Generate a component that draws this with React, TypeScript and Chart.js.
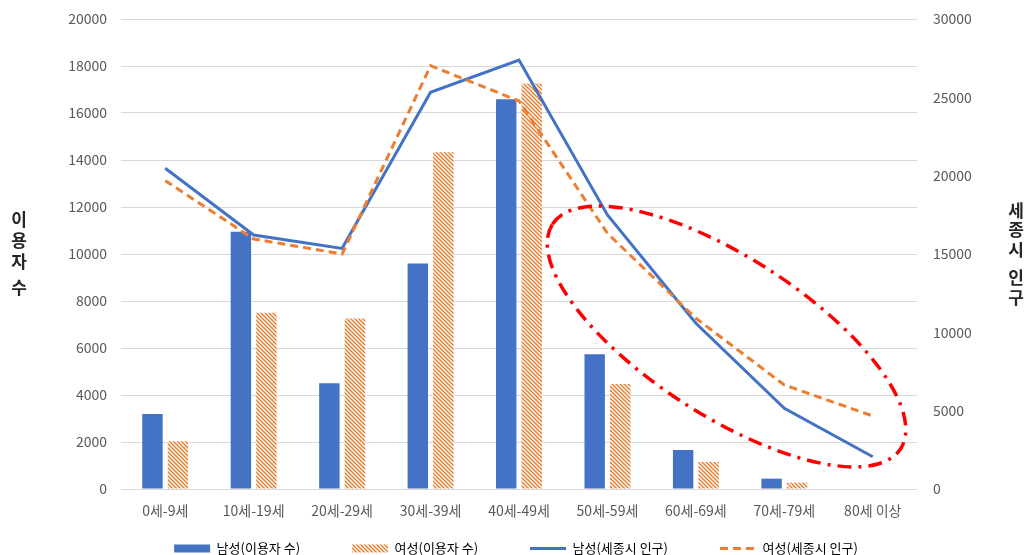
import { useEffect, useRef } from 'react';
import { Chart, registerables } from 'chart.js';

Chart.register(...registerables);

const categories = ['0세-9세', '10세-19세', '20세-29세', '30세-39세', '40세-49세', '50세-59세', '60세-69세', '70세-79세', '80세 이상'];
const maleUsers = [3190, 10950, 4500, 9600, 16580, 5730, 1660, 440, null];
const femaleUsers = [2030, 7500, 7260, 14330, 17260, 4470, 1150, 270, null];
const malePop = [20470, 16210, 15360, 25320, 27380, 17490, 10580, 5150, 2060];
const femalePop = [19680, 15960, 15000, 27020, 24770, 16320, 10900, 6640, 4660];

const seriesLabels = ['남성(이용자 수)', '여성(이용자 수)', '남성(세종시 인구)', '여성(세종시 인구)'];
const leftTitle = ['이', '용', '자', ' ', '수'];
const rightTitle = ['세', '종', '시', ' ', '인', '구'];
const leftMax = 20000;
const leftStep = 2000;
const rightMax = 30000;
const rightStep = 5000;

// highlighted region (long-axis end points in data coordinates: category index, left-axis value)
const highlightFrom = { x: 4.378, y: 11264 };
const highlightTo = { x: 8.315, y: 1715 };

const BLUE = '#4472C4';
const ORANGE = '#ED7D31';
const FONT = "'Noto Sans CJK KR', 'Noto Sans', sans-serif";

function makeHatch(): CanvasPattern | string {
  const c = document.createElement('canvas');
  c.width = 4;
  c.height = 4;
  const g = c.getContext('2d');
  if (!g) return ORANGE;
  g.fillStyle = '#ffffff';
  g.fillRect(0, 0, 4, 4);
  g.strokeStyle = ORANGE;
  g.lineWidth = 1.5;
  g.beginPath();
  g.moveTo(-1, -1); g.lineTo(5, 5);
  g.moveTo(-1, 3); g.lineTo(1, 5);
  g.moveTo(3, -1); g.lineTo(5, 1);
  g.stroke();
  return g.createPattern(c, 'repeat') || ORANGE;
}

const titlesPlugin = {
  id: 'stackedTitles',
  afterDraw(chart: any) {
    const { ctx, chartArea } = chart;
    const draw = (chars: string[], x: number, step: number, spaceStep: number) => {
      const pos: number[] = [];
      let y = 0;
      chars.forEach((ch) => {
        if (ch === ' ') { y += spaceStep; return; }
        if (pos.length > 0) y += step;
        pos.push(y);
      });
      const mid = (chartArea.top + chartArea.bottom) / 2;
      const start = mid - y / 2;
      ctx.save();
      ctx.font = `bold 17px ${FONT}`;
      ctx.fillStyle = '#262626';
      ctx.textAlign = 'center';
      ctx.textBaseline = 'middle';
      const glyphs = chars.filter((c) => c !== ' ');
      glyphs.forEach((ch, i) => ctx.fillText(ch, x, start + pos[i]));
      ctx.restore();
    };
    draw(leftTitle, 19, 21, 5);
    draw(rightTitle, chart.width - 16, 19.5, 9);
  },
};

const legendPlacePlugin = {
  id: 'legendPlace',
  beforeDraw(chart: any) {
    if (chart.legend) {
      chart.legend.top = chart.height - 65;
      chart.legend.bottom = chart.height;
      chart.legend.height = 65;
    }
  },
};

const highlightPlugin = {
  id: 'highlight',
  afterDatasetsDraw(chart: any) {
    const { ctx, scales } = chart;
    const x1 = scales.x.getPixelForValue(highlightFrom.x);
    const y1 = scales.y.getPixelForValue(highlightFrom.y);
    const x2 = scales.x.getPixelForValue(highlightTo.x);
    const y2 = scales.y.getPixelForValue(highlightTo.y);
    const cx = (x1 + x2) / 2;
    const cy = (y1 + y2) / 2;
    const a = Math.hypot(x2 - x1, y2 - y1) / 2;
    const b = a * 0.382;
    const ang = Math.atan2(y2 - y1, x2 - x1);
    ctx.save();
    ctx.strokeStyle = '#FF0000';
    ctx.lineWidth = 3.5;
    ctx.setLineDash([14, 7, 3, 7]);
    ctx.beginPath();
    ctx.ellipse(cx, cy, a, b, ang, Math.PI, Math.PI * 3);
    ctx.stroke();
    ctx.restore();
  },
};

export default function App() {
  const ref = useRef<HTMLCanvasElement | null>(null);

  useEffect(() => {
    document.body.style.margin = '0';
    if (!ref.current) return;
    const hatch = makeHatch();
    const plain = (v: any) => String(v);
    const chart = new Chart(ref.current, {
      type: 'bar',
      data: {
        labels: categories,
        datasets: [
          { type: 'bar', label: seriesLabels[0], data: maleUsers, backgroundColor: BLUE, yAxisID: 'y', order: 3, categoryPercentage: 0.577, barPercentage: 0.8 } as any,
          { type: 'bar', label: seriesLabels[1], data: femaleUsers, backgroundColor: hatch, yAxisID: 'y', order: 4, categoryPercentage: 0.577, barPercentage: 0.8 } as any,
          { type: 'line', label: seriesLabels[2], data: malePop, borderColor: BLUE, backgroundColor: BLUE, borderWidth: 3, pointRadius: 0, tension: 0, yAxisID: 'y1', order: 2 } as any,
          { type: 'line', label: seriesLabels[3], data: femalePop, borderColor: ORANGE, backgroundColor: ORANGE, borderWidth: 3, borderDash: [8, 5], pointRadius: 0, tension: 0, yAxisID: 'y1', order: 1 } as any,
        ],
      },
      options: {
        animation: false,
        responsive: true,
        maintainAspectRatio: false,
        layout: { padding: { left: 0, right: 0, top: 19, bottom: 0 } },
        plugins: {
          tooltip: { enabled: false },
          legend: {
            position: 'bottom',
            maxHeight: 34,
            labels: {
              usePointStyle: true,
              pointStyleWidth: 36,
              boxHeight: 8,
              padding: 52,
              color: '#595959',
              font: { family: FONT, size: 13 },
              generateLabels: () => [
                { text: seriesLabels[0], fillStyle: BLUE, strokeStyle: BLUE, lineWidth: 0, pointStyle: 'rect', datasetIndex: 0 },
                { text: seriesLabels[1], fillStyle: hatch, strokeStyle: ORANGE, lineWidth: 0, pointStyle: 'rect', datasetIndex: 1 },
                { text: seriesLabels[2], fillStyle: BLUE, strokeStyle: BLUE, lineWidth: 3, pointStyle: 'line', datasetIndex: 2 },
                { text: seriesLabels[3], fillStyle: ORANGE, strokeStyle: ORANGE, lineWidth: 3, lineDash: [8, 5], pointStyle: 'line', datasetIndex: 3 },
              ] as any,
            },
          },
        },
        scales: {
          x: {
            grid: { display: false },
            border: { display: false },
            ticks: { color: '#595959', font: { family: FONT, size: 14 }, padding: 5, maxRotation: 0, autoSkip: false },
            afterFit: (s: any) => { s.height = 32; },
          },
          y: {
            position: 'left',
            min: 0,
            max: leftMax,
            grid: { color: '#D9D9D9', lineWidth: 1, drawTicks: false },
            border: { display: false },
            ticks: { stepSize: leftStep, color: '#595959', font: { family: FONT, size: 14 }, padding: 14, callback: plain },
            afterFit: (s: any) => { s.width = 121; s.paddingTop = 0; s.paddingBottom = 0; },
          },
          y1: {
            position: 'right',
            min: 0,
            max: rightMax,
            grid: { display: false, drawTicks: false },
            border: { display: false },
            ticks: { stepSize: rightStep, color: '#595959', font: { family: FONT, size: 14 }, padding: 16, callback: plain },
            afterFit: (s: any) => { s.width = 115; s.paddingTop = 0; s.paddingBottom = 0; },
          },
        },
      },
      plugins: [highlightPlugin, titlesPlugin, legendPlacePlugin],
    });
    return () => chart.destroy();
  }, []);

  return (
    <div style={{ width: '1032px', height: '555px', position: 'relative' }}>
      <canvas ref={ref} />
    </div>
  );
}
